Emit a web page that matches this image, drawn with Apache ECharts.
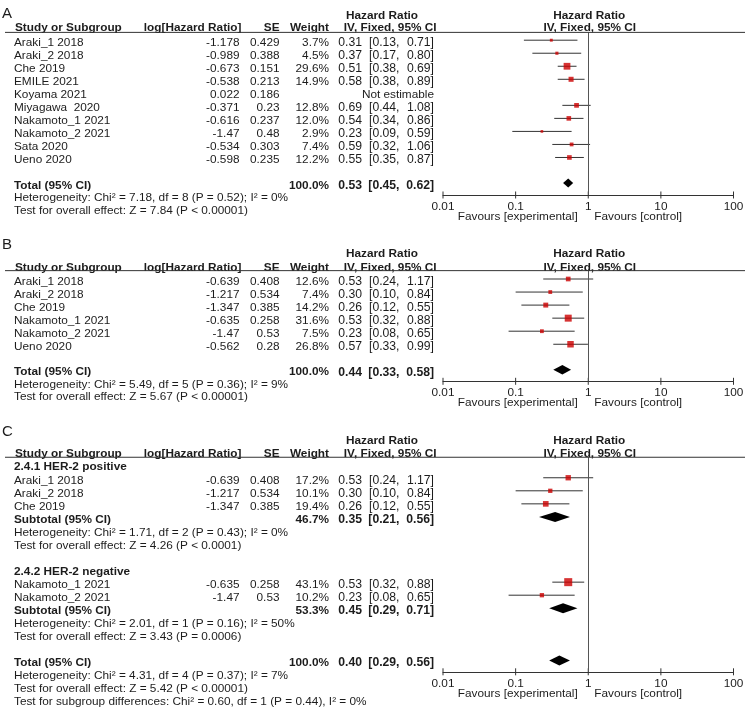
<!DOCTYPE html>
<html><head><meta charset="utf-8">
<script src="https://cdn.jsdelivr.net/npm/echarts@6/dist/echarts.min.js"></script>
<style>html,body{margin:0;padding:0;background:#fff}#c{width:748px;height:709px}</style>
</head><body><div id="c"></div>
<script>
// ---------- shared labels ----------
const tickValues = [0.01, 0.1, 1, 10, 100];
const tickLabels = ['0.01', '0.1', '1', '10', '100'];
const favoursLabels = ['Favours [experimental]', 'Favours [control]'];
const columnHeaders = ['Study or Subgroup', 'log[Hazard Ratio]', 'SE', 'Weight', 'IV, Fixed, 95% CI'];
const effectHeaders = ['Hazard Ratio', 'IV, Fixed, 95% CI'];

// ---------- Panel A ----------
const aStudy = ['Araki_1 2018', 'Araki_2 2018', 'Che 2019', 'EMILE 2021', 'Koyama 2021', 'Miyagawa  2020', 'Nakamoto_1 2021', 'Nakamoto_2 2021', 'Sata 2020', 'Ueno 2020'];
const aLogHR = [-1.178, -0.989, -0.673, -0.538, 0.022, -0.371, -0.616, -1.47, -0.534, -0.598];
const aSE = [0.429, 0.388, 0.151, 0.213, 0.186, 0.23, 0.237, 0.48, 0.303, 0.235];
const aWeight = [3.7, 4.5, 29.6, 14.9, null, 12.8, 12.0, 2.9, 7.4, 12.2];
const aHR = [0.31, 0.37, 0.51, 0.58, null, 0.69, 0.54, 0.23, 0.59, 0.55];
const aLow = [0.13, 0.17, 0.38, 0.38, null, 0.44, 0.34, 0.09, 0.32, 0.35];
const aHigh = [0.71, 0.80, 0.69, 0.89, null, 1.08, 0.86, 0.59, 1.06, 0.87];
const aTotal = [100.0, 0.53, 0.45, 0.62]; // weight, HR, low, high
const aNotes = ['Heterogeneity: Chi² = 7.18, df = 8 (P = 0.52); I² = 0%', 'Test for overall effect: Z = 7.84 (P < 0.00001)'];

// ---------- Panel B ----------
const bStudy = ['Araki_1 2018', 'Araki_2 2018', 'Che 2019', 'Nakamoto_1 2021', 'Nakamoto_2 2021', 'Ueno 2020'];
const bLogHR = [-0.639, -1.217, -1.347, -0.635, -1.47, -0.562];
const bSE = [0.408, 0.534, 0.385, 0.258, 0.53, 0.28];
const bWeight = [12.6, 7.4, 14.2, 31.6, 7.5, 26.8];
const bHR = [0.53, 0.30, 0.26, 0.53, 0.23, 0.57];
const bLow = [0.24, 0.10, 0.12, 0.32, 0.08, 0.33];
const bHigh = [1.17, 0.84, 0.55, 0.88, 0.65, 0.99];
const bTotal = [100.0, 0.44, 0.33, 0.58];
const bNotes = ['Heterogeneity: Chi² = 5.49, df = 5 (P = 0.36); I² = 9%', 'Test for overall effect: Z = 5.67 (P < 0.00001)'];

// ---------- Panel C ----------
const c1Label = '2.4.1 HER-2 positive';
const c1Study = ['Araki_1 2018', 'Araki_2 2018', 'Che 2019'];
const c1LogHR = [-0.639, -1.217, -1.347];
const c1SE = [0.408, 0.534, 0.385];
const c1Weight = [17.2, 10.1, 19.4];
const c1HR = [0.53, 0.30, 0.26];
const c1Low = [0.24, 0.10, 0.12];
const c1High = [1.17, 0.84, 0.55];
const c1Subtotal = [46.7, 0.35, 0.21, 0.56];
const c1Notes = ['Heterogeneity: Chi² = 1.71, df = 2 (P = 0.43); I² = 0%', 'Test for overall effect: Z = 4.26 (P < 0.0001)'];

const c2Label = '2.4.2 HER-2 negative';
const c2Study = ['Nakamoto_1 2021', 'Nakamoto_2 2021'];
const c2LogHR = [-0.635, -1.47];
const c2SE = [0.258, 0.53];
const c2Weight = [43.1, 10.2];
const c2HR = [0.53, 0.23];
const c2Low = [0.32, 0.08];
const c2High = [0.88, 0.65];
const c2Subtotal = [53.3, 0.45, 0.29, 0.71];
const c2Notes = ['Heterogeneity: Chi² = 2.01, df = 1 (P = 0.16); I² = 50%', 'Test for overall effect: Z = 3.43 (P = 0.0006)'];

const cTotal = [100.0, 0.40, 0.29, 0.56];
const cNotes = ['Heterogeneity: Chi² = 4.31, df = 4 (P = 0.37); I² = 7%', 'Test for overall effect: Z = 5.42 (P < 0.00001)', 'Test for subgroup differences: Chi² = 0.60, df = 1 (P = 0.44), I² = 0%'];

// ---------- layout ----------
const FONT = '"Liberation Sans", Arial, sans-serif';
const FS = 11.8;
const CI_FS = 12.2;
const TEXT_DY = 2.5;
const COL = { name: 14, logHR: 239.5, se: 279.5, weight: 329, ci: 434, ciMid: 399.5, ciLeft: 362, hrHead: 382, ciHead: 436.5, ruleL: 5, ruleR: 745 };
const TEXT_COLOR = '#1c1c1c';

const panels = [
  { letter: 'A', y0: 40.2, h: 13.03, letterRow: -2.24, hrHeadRow: -2.1, colHeadRow: -1.13, topRow: -0.6, axisRow: 11.88, diamondH: 9,
    blocks: [
      { kind: 'studies', start: 0, names: aStudy, logHR: aLogHR, se: aSE, weight: aWeight, hr: aHR, low: aLow, high: aHigh },
      { kind: 'pooled', row: 10.95, label: 'Total (95% CI)', v: aTotal },
      { kind: 'notes', start: 11.88, step: 1.02, texts: aNotes }
    ] },
  { letter: 'B', y0: 279, h: 13.05, letterRow: -2.82, hrHeadRow: -2.11, colHeadRow: -1.06, topRow: -0.64, axisRow: 7.84, diamondH: 9.5,
    blocks: [
      { kind: 'studies', start: 0, names: bStudy, logHR: bLogHR, se: bSE, weight: bWeight, hr: bHR, low: bLow, high: bHigh },
      { kind: 'pooled', row: 6.95, label: 'Total (95% CI)', v: bTotal },
      { kind: 'notes', start: 7.9, step: 0.95, texts: bNotes }
    ] },
  { letter: 'C', y0: 464.7, h: 13.05, letterRow: -2.72, hrHeadRow: -2.03, colHeadRow: -1.01, topRow: -0.57, axisRow: 15.87, diamondH: 10,
    blocks: [
      { kind: 'label', row: 0, text: c1Label },
      { kind: 'studies', start: 1, names: c1Study, logHR: c1LogHR, se: c1SE, weight: c1Weight, hr: c1HR, low: c1Low, high: c1High },
      { kind: 'pooled', row: 4, label: 'Subtotal (95% CI)', v: c1Subtotal },
      { kind: 'notes', start: 5, step: 1, texts: c1Notes },
      { kind: 'label', row: 8, text: c2Label },
      { kind: 'studies', start: 9, names: c2Study, logHR: c2LogHR, se: c2SE, weight: c2Weight, hr: c2HR, low: c2Low, high: c2High },
      { kind: 'pooled', row: 11, label: 'Subtotal (95% CI)', v: c2Subtotal },
      { kind: 'notes', start: 12, step: 1, texts: c2Notes },
      { kind: 'pooled', row: 15, label: 'Total (95% CI)', v: cTotal },
      { kind: 'notes', start: 16, step: 1, texts: cNotes }
    ] }
];

// CI text "x.xx [x.xx, x.xx]" laid out in three aligned pieces, as in the reference
function pushCI(cells, row, hr, lo, hi, bold) {
  cells.push({ row, x: COL.ciLeft, text: hr.toFixed(2), align: 'right', bold, size: CI_FS });
  cells.push({ row, x: COL.ciMid, text: '[' + lo.toFixed(2) + ',', align: 'right', bold, size: CI_FS });
  cells.push({ row, x: COL.ci, text: hi.toFixed(2) + ']', align: 'right', bold, size: CI_FS });
}

function buildPanel(p) {
  const cells = [], studies = [], pooled = [];
  cells.push({ row: p.letterRow, x: 2, text: p.letter, align: 'left', size: 15 });
  cells.push({ row: p.hrHeadRow, x: COL.hrHead, text: effectHeaders[0], align: 'center', bold: true });
  cells.push({ row: p.hrHeadRow, atX: 1, dx: 1, text: effectHeaders[0], align: 'center', bold: true });
  cells.push({ row: p.colHeadRow, x: COL.name + 1, text: columnHeaders[0], align: 'left', bold: true });
  cells.push({ row: p.colHeadRow, x: COL.logHR + 2, text: columnHeaders[1], align: 'right', bold: true });
  cells.push({ row: p.colHeadRow, x: COL.se, text: columnHeaders[2], align: 'right', bold: true });
  cells.push({ row: p.colHeadRow, x: COL.weight, text: columnHeaders[3], align: 'right', bold: true });
  cells.push({ row: p.colHeadRow, x: COL.ciHead, text: columnHeaders[4], align: 'right', bold: true });
  cells.push({ row: p.colHeadRow, atX: 1, dx: 1.5, text: effectHeaders[1], align: 'center', bold: true });
  cells.push({ row: p.topRow, rule: true });
  cells.push({ row: p.axisRow, atX: 1, dx: -10.5, dy: 21.5, text: favoursLabels[0], align: 'right' });
  cells.push({ row: p.axisRow, atX: 1, dx: 6, dy: 21.5, text: favoursLabels[1], align: 'left' });

  p.blocks.forEach(b => {
    if (b.kind === 'label') {
      cells.push({ row: b.row, x: COL.name, text: b.text, align: 'left', bold: true });
    } else if (b.kind === 'studies') {
      b.names.forEach((n, i) => {
        const row = b.start + i;
        cells.push({ row, x: COL.name, text: n, align: 'left' });
        cells.push({ row, x: COL.logHR, text: String(b.logHR[i]), align: 'right' });
        cells.push({ row, x: COL.se, text: String(b.se[i]), align: 'right' });
        if (b.weight[i] != null) cells.push({ row, x: COL.weight, text: b.weight[i].toFixed(1) + '%', align: 'right' });
        if (b.hr[i] != null) {
          pushCI(cells, row, b.hr[i], b.low[i], b.high[i], false);
          studies.push({ row, hr: b.hr[i], lo: b.low[i], hi: b.high[i], w: b.weight[i] });
        } else {
          cells.push({ row, x: COL.ci, text: 'Not estimable', align: 'right' });
        }
      });
    } else if (b.kind === 'pooled') {
      cells.push({ row: b.row, x: COL.name, text: b.label, align: 'left', bold: true });
      cells.push({ row: b.row, x: COL.weight, text: b.v[0].toFixed(1) + '%', align: 'right', bold: true });
      pushCI(cells, b.row, b.v[1], b.v[2], b.v[3], true);
      pooled.push({ row: b.row, hr: b.v[1], lo: b.v[2], hi: b.v[3] });
    } else if (b.kind === 'notes') {
      b.texts.forEach((t, i) => cells.push({ row: b.start + i * b.step, x: COL.name, text: t, align: 'left' }));
    }
  });
  return { cells, studies, pooled };
}

const grids = [], xAxes = [], yAxes = [], series = [];
panels.forEach((p, k) => {
  const built = buildPanel(p);
  grids.push({ left: 443, width: 290.5, top: p.y0 + p.topRow * p.h, height: (p.axisRow - p.topRow) * p.h, containLabel: false, outerBoundsMode: 'none' });
  xAxes.push({
    type: 'log', logBase: 10, gridIndex: k, min: 0.01, max: 100, splitNumber: 4, position: 'bottom',
    axisLine: { show: true, onZero: false, lineStyle: { color: '#333', width: 1 } },
    axisTick: { show: false }, minorTick: { show: false }, splitLine: { show: false },
    axisLabel: {
      margin: 5.5, fontSize: FS, fontFamily: FONT, color: TEXT_COLOR,
      formatter: v => {
        const i = tickValues.findIndex(t => Math.abs(Math.log10(t) - Math.log10(v)) < 1e-6);
        return i >= 0 ? tickLabels[i] : '';
      }
    }
  });
  yAxes.push({ type: 'value', gridIndex: k, inverse: true, min: p.topRow, max: p.axisRow, show: false });

  // axis ticks crossing the axis line
  series.push({
    type: 'custom', xAxisIndex: k, yAxisIndex: k, clip: false, silent: true, z: 3,
    data: tickValues.map(v => [v, p.axisRow]), encode: { x: 0, y: 1 },
    renderItem: (params, api) => {
      const pt = api.coord([api.value(0), api.value(1)]);
      return { type: 'line', shape: { x1: pt[0], y1: pt[1] - 3.5, x2: pt[0], y2: pt[1] + 3.5 }, style: { stroke: '#333', lineWidth: 1 } };
    }
  });
  // confidence interval lines
  series.push({
    type: 'custom', xAxisIndex: k, yAxisIndex: k, clip: false, silent: true, z: 3,
    data: built.studies.map(s => [s.lo, s.hi, s.row]), encode: { x: [0, 1], y: 2 },
    renderItem: (params, api) => {
      const a = api.coord([api.value(0), api.value(2)]);
      const b = api.coord([api.value(1), api.value(2)]);
      return { type: 'line', shape: { x1: a[0], y1: a[1], x2: b[0], y2: b[1] }, style: { stroke: '#333', lineWidth: 1 } };
    }
  });
  // study squares + line of no effect
  series.push({
    type: 'scatter', xAxisIndex: k, yAxisIndex: k, symbol: 'rect', silent: true, z: 4,
    data: built.studies.map(s => [s.hr, s.row, s.w]),
    symbolSize: v => 1.1 * Math.sqrt(v[2]) + 0.8,
    itemStyle: { color: '#cc0000' },
    markLine: { silent: true, symbol: ['none', 'none'], label: { show: false }, animation: false,
      lineStyle: { color: '#555', width: 1, type: 'solid' }, data: [{ xAxis: 1 }] }
  });
  // pooled diamonds
  series.push({
    type: 'custom', xAxisIndex: k, yAxisIndex: k, clip: false, silent: true, z: 4,
    data: built.pooled.map(s => [s.lo, s.hr, s.hi, s.row]), encode: { x: [0, 1, 2], y: 3 },
    renderItem: (params, api) => {
      const r = api.value(3);
      const l = api.coord([api.value(0), r]);
      const m = api.coord([api.value(1), r]);
      const h = api.coord([api.value(2), r]);
      const d = p.diamondH / 2;
      return { type: 'polygon', shape: { points: [[l[0], l[1]], [m[0], m[1] - d], [h[0], h[1]], [m[0], m[1] + d]] }, style: { fill: '#000' } };
    }
  });
  // table text
  const cells = built.cells;
  series.push({
    type: 'custom', xAxisIndex: k, yAxisIndex: k, clip: false, silent: true, z: 5,
    data: cells.map((c, i) => [1, c.row, i]), encode: { x: 0, y: 1 },
    renderItem: (params, api) => {
      const c = cells[api.value(2)];
      const pt = api.coord([1, api.value(1)]);
      if (c.rule) {
        return { type: 'line', shape: { x1: COL.ruleL, y1: pt[1], x2: COL.ruleR, y2: pt[1] }, style: { stroke: '#333', lineWidth: 1 } };
      }
      const x = c.atX != null ? pt[0] + (c.dx || 0) : c.x;
      const y = pt[1] + (c.dy != null ? c.dy : TEXT_DY);
      return { type: 'text', style: {
        text: c.text, x, y, align: c.align, textAlign: c.align, verticalAlign: 'middle', textVerticalAlign: 'middle',
        font: (c.bold ? 'bold ' : '') + (c.size || FS) + 'px ' + FONT, fill: TEXT_COLOR } };
    }
  });
});

const chart = echarts.init(document.getElementById('c'), null, { renderer: 'canvas' });
chart.setOption({ animation: false, backgroundColor: '#fff', grid: grids, xAxis: xAxes, yAxis: yAxes, series });
</script></body></html>
